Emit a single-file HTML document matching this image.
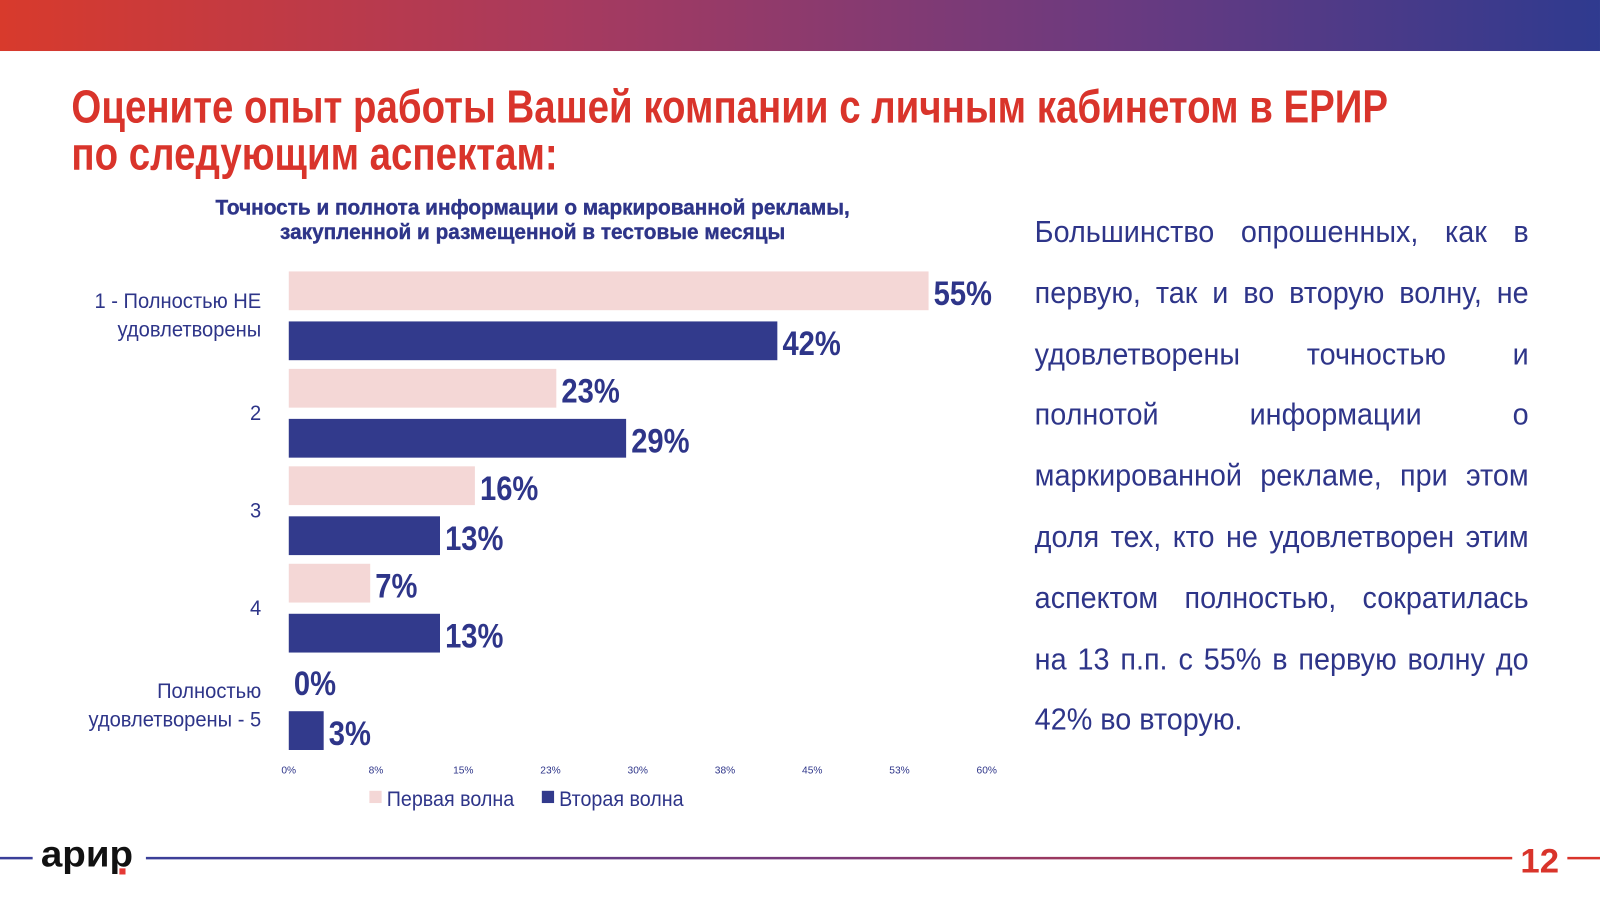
<!DOCTYPE html>
<html><head><meta charset="utf-8">
<style>
body{margin:0;width:1600px;height:898px;overflow:hidden;background:#fff;font-family:"Liberation Sans",sans-serif}
#wrap{position:absolute;left:0;top:0;width:1568px;height:880px;transform:scale(1.0204);transform-origin:0 0}
.abs{position:absolute}
#topbar{left:0;top:0;width:1568px;height:50px;background:linear-gradient(90deg,#d83a2c,#a83a5e 35%,#6a3a80 70%,#2f3a8f)}
#title{left:70px;top:82px;font-size:45px;font-weight:bold;color:#d9342b;line-height:46px;white-space:nowrap;transform:scaleX(0.837);transform-origin:0 0}
#ctitle{left:172px;top:192px;width:700px;text-align:center;font-size:21px;font-weight:bold;color:#2e3589;line-height:24px;transform:scaleX(0.97);transform-origin:50% 0;white-space:nowrap;-webkit-text-stroke:0.4px #2e3589}
#para{left:1014px;top:198px;width:515px;transform:scaleX(0.94);transform-origin:0 0;font-size:30px;line-height:59.8px;color:#2e3589}
#para div{text-align:justify;text-align-last:justify;white-space:nowrap}
#para div.last{text-align-last:left}
</style></head><body>
<div id="wrap">
<div id="topbar" class="abs"></div>
<div id="title" class="abs">Оцените опыт работы Вашей компании с личным кабинетом в ЕРИР<br>по следующим аспектам:</div>
<div id="ctitle" class="abs">Точность и полнота информации о маркированной рекламы,<br>закупленной и размещенной в тестовые месяцы</div>
<div id="para" class="abs">
<div>Большинство опрошенных, как в</div>
<div>первую, так и во вторую волну, не</div>
<div>удовлетворены точностью и</div>
<div>полнотой информации о</div>
<div>маркированной рекламе, при этом</div>
<div>доля тех, кто не удовлетворен этим</div>
<div>аспектом полностью, сократилась</div>
<div>на 13 п.п. с 55% в первую волну до</div>
<div class="last">42% во вторую.</div>
</div>
<svg class="abs" style="left:0;top:0" width="1568" height="880" id="chart"></svg>
<svg class="abs" style="left:0;top:0" width="1568" height="880">
<defs><linearGradient id="fg" gradientUnits="userSpaceOnUse" x1="143" y1="0" x2="1482" y2="0"><stop offset="0" stop-color="#3a3f99"/><stop offset="0.5" stop-color="#7a3a7a"/><stop offset="1" stop-color="#d9342b"/></linearGradient></defs>
<line x1="0" y1="841" x2="32" y2="841" stroke="#3a3f99" stroke-width="2.5"/>
<line x1="143" y1="841" x2="1482" y2="841" stroke="url(#fg)" stroke-width="2.5"/>
<line x1="1536" y1="841" x2="1568" y2="841" stroke="#d9342b" stroke-width="2.5"/>
<text x="0" y="0" font-family="Liberation Sans" font-weight="bold" font-size="36" fill="#111" transform="translate(40,849) scale(1.05,1)">арир</text>
<rect x="117" y="851" width="6" height="6" fill="#e53935"/>
<text x="0" y="0" font-family="Liberation Sans" font-weight="bold" font-size="34" fill="#d9342b" transform="translate(1490,855) scale(1.0,1)">12</text>
</svg>
</div>
<script>
const categories=["1 - Полностью НЕ|удовлетворены","2","3","4","Полностью|удовлетворены - 5"];
const wave1=[55,23,16,7,0];
const wave2=[42,29,13,13,3];
const ticks=[0,8,15,23,30,38,45,53,60];
const seriesNames=["Первая волна","Вторая волна"];
const NS="http://www.w3.org/2000/svg";
const svg=document.getElementById('chart');
const x0=283,xmax=60,xw=684;
const xs=v=>x0+v/xmax*xw;
const groupY=i=>266+i*95.5;
const colors=["#f4d7d6","#323a8c"];
function mk(t,a){const e=document.createElementNS(NS,t);for(const k in a)e.setAttribute(k,a[k]);svg.appendChild(e);return e;}
[wave1,wave2].forEach((s,si)=>{s.forEach((v,i)=>{
 const y=groupY(i)+si*49;
 const r=mk('rect',{x:x0,y:y,width:xs(v)-x0,height:38,fill:colors[si]});
 
 
 const tx=xs(v)+5,ty=y+33;
 const t=mk('text',{x:0,y:0,transform:'translate('+tx+','+ty+') scale(0.84,1)','font-size':34,'font-weight':'bold',fill:'#2e3589'});
 t.textContent=v+'%';
 
 
});});
categories.forEach((c,i)=>{
 const lines=c.split('|');const cy=groupY(i)+43;
 lines.forEach((l,j)=>{
  const ty=cy+7+(j-(lines.length-1)/2)*28;
  const t=mk('text',{x:0,y:0,transform:'translate(256,'+ty+') scale(0.94,1)','text-anchor':'end','font-size':21,fill:'#2e3589'});
  t.textContent=l;
  
  
 });
});
ticks.forEach((v,i)=>{
 const t=mk('text',{x:x0+i*xw/(ticks.length-1),y:758,'text-anchor':'middle','font-size':10,fill:'#2e3589'});
 t.textContent=v+'%';
 
 
});
const lx=[362,531];
seriesNames.forEach((n,i)=>{
 const r=mk('rect',{x:lx[i],y:775,width:12,height:12,fill:colors[i]});
 
 
 const t=mk('text',{x:0,y:0,transform:'translate('+(lx[i]+17)+',790) scale(0.92,1)','font-size':21,fill:'#2e3589'});
 t.textContent=n;
 
 
});
</script>
</body></html>
